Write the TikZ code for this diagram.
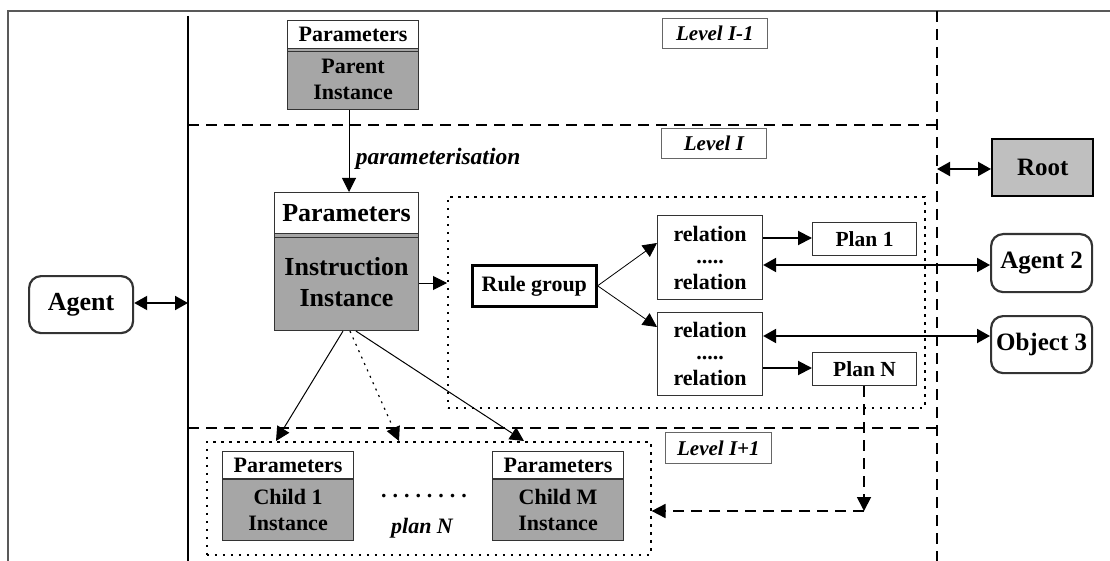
\documentclass[tikz,border=0pt]{standalone}
\usepackage{fontspec}
\setmainfont{Liberation Serif}
\usetikzlibrary{arrows.meta}

\begin{document}
\begin{tikzpicture}[x=1pt,y=-1pt,
  font=\bfseries\fontsize{22}{26}\selectfont,
  box/.style={draw=black!80, line width=1.1pt, inner sep=0pt, align=center, anchor=north west},
  parbox/.style={box, fill=white},
  instbox/.style={box, fill=black!35},
  rndbox/.style={box, line width=2.2pt, rounded corners=12pt, font=\bfseries\fontsize{26}{28}\selectfont},
  lvl/.style={draw=black!60, line width=0.8pt, inner sep=0pt, anchor=north west,
    font=\bfseries\itshape\fontsize{21}{24}\selectfont},
  tip/.style={-{Triangle[length=14pt,width=14pt]}},
  bitip/.style={{Triangle[length=13pt,width=14pt]}-{Triangle[length=13pt,width=14pt]}},
  conn/.style={line width=1pt},
  heavy/.style={line width=2pt},
  layer/.style={line width=1.6pt, dash pattern=on 11pt off 7pt},
  group/.style={line width=1.6pt, dash pattern=on 2.5pt off 5.5pt},
]
\useasboundingbox (0,0) rectangle (1110,561);

% outer frame and swim-lane lines
\draw[black!65, line width=2pt] (8,562) -- (8,11) -- (1112,11);
\draw[line width=1.2pt] (188,16) -- (188,562);
\draw[layer] (937,11) -- (937,562);
\draw[layer] (188,125) -- (937,125);
\draw[layer] (188,428) -- (937,428);

% level labels
\node[lvl, minimum width=105pt, minimum height=30pt] (lvlup) at (662,18) {Level I-1};
\node[lvl, minimum width=105pt, minimum height=30pt] (lvl) at (661,128) {Level I};
\node[lvl, minimum width=106pt, minimum height=31pt] (lvldown) at (665,432) {Level I+1};

% parent instance
\node[parbox, minimum width=131pt, minimum height=28pt] (ppar) at (287,20) {Parameters};
\node[instbox, minimum width=131pt, minimum height=61pt] (pinst) at (287,48) {Parent\\Instance};
\draw[black!80, line width=0.8pt] (ppar.south west) ++(0,2) -- ++(131,0);

% instruction instance
\node[parbox, minimum width=144pt, minimum height=41pt, font=\bfseries\fontsize{26}{30}\selectfont] (ipar) at (274,192) {Parameters};
\node[instbox, minimum width=144pt, minimum height=97pt, font=\bfseries\fontsize{26}{31}\selectfont] (iinst) at (274,233) {Instruction\\Instance};
\draw[black!80, line width=0.8pt] (274,237) -- (418,237);

% rule group container
\node[draw, group, inner sep=0pt, anchor=north west, minimum width=477pt, minimum height=211pt] (rules) at (447,196) {};
\node[box, draw=black, line width=2.6pt, minimum width=124pt, minimum height=41pt] (rg) at (471,264) {Rule group};
\node[box, minimum width=105pt, minimum height=84pt] (rel1) at (657,215) {relation\\[-4pt].....\\relation};
\node[box, minimum width=105pt, minimum height=83pt] (rel2) at (657,312) {relation\\[-4pt].....\\relation};
\node[box, minimum width=104pt, minimum height=33pt, font=\bfseries\fontsize{21.5}{24}\selectfont] (plan1) at (812,222) {Plan 1};
\node[box, minimum width=104pt, minimum height=33pt, font=\bfseries\fontsize{21.5}{24}\selectfont] (planN) at (812,352) {Plan N};

% external entities
\node[box, draw=black, fill=black!25, line width=2.4pt, minimum width=101pt, minimum height=57pt, font=\bfseries\fontsize{25}{28}\selectfont] (root) at (991,138) {Root};
\node[rndbox, minimum width=104pt, minimum height=57pt] (agent) at (28,275) {Agent};
\node[rndbox, minimum width=101pt, minimum height=58pt, font=\bfseries\fontsize{25}{28}\selectfont] (agent2) at (990,233) {Agent 2};
\node[rndbox, minimum width=101pt, minimum height=57pt, font=\bfseries\fontsize{25}{28}\selectfont] (object3) at (990,315) {Object 3};

% child instances
\node[draw, group, inner sep=0pt, anchor=north west, minimum width=444pt, minimum height=113pt] (children) at (206,441) {};
\node[parbox, minimum width=131pt, minimum height=27pt] (c1par) at (222,451) {Parameters};
\node[instbox, minimum width=131pt, minimum height=62pt] (c1inst) at (222,478) {Child 1\\Instance};
\node[parbox, minimum width=131pt, minimum height=27pt] (cmpar) at (492,451) {Parameters};
\node[instbox, minimum width=131pt, minimum height=62pt] (cminst) at (492,478) {Child M\\Instance};
\draw[black!80, line width=2pt] (222,478.5) -- (353,478.5);
\draw[black!80, line width=2pt] (492,478.5) -- (623,478.5);
\node[inner sep=0pt, font=\bfseries\fontsize{22}{26}\selectfont\addfontfeature{LetterSpace=27}] (dots) at (424,496) {........};
\node[inner sep=0pt, font=\bfseries\itshape\fontsize{22}{26}\selectfont] (planlbl) at (422,528) {plan N};

% connectors
\draw[conn, tip] (pinst.south -| 349,0) -- (ipar.north -| 349,0)
  node[pos=0.6, right=3pt, font=\bfseries\itshape\fontsize{23.5}{26}\selectfont] (param) {parameterisation};
\draw[conn, tip] (iinst.east |- 0,283) -- (rules.west |- 0,283);
\draw[line width=0.8pt, tip] (rg.east) -- (rel1.west |- 0,243);
\draw[line width=0.8pt, tip] (rg.east) -- (rel2.west |- 0,327);
\draw[heavy, tip] (rel1.east |- 0,238) -- (plan1.west |- 0,238);
\draw[heavy, tip] (rel2.east |- 0,368) -- (planN.west |- 0,368);
\draw[heavy, bitip] (rel1.east |- 0,265) -- (agent2.west |- 0,265);
\draw[heavy, bitip] (rel2.east |- 0,336) -- (object3.west |- 0,336);
\draw[heavy, bitip] (937,169) -- (root.west |- 0,169);
\draw[heavy, bitip] (agent.east |- 0,303) -- (188,303);

\draw[conn, tip] (iinst.south -| 343,0) -- (children.north -| 276,0);
\draw[line width=1.2pt, tip, dash pattern=on 2pt off 5pt] (iinst.south -| 350,0) -- (children.north -| 399,0);
\draw[conn, tip] (iinst.south -| 356,0) -- (children.north -| 524,0);

\coordinate (bend) at (864,511);
\draw[layer, line width=1.8pt, tip] (planN.south -| bend) -- (bend);
\draw[layer, line width=1.8pt, tip] (bend) -- (children.east |- bend);
\end{tikzpicture}
\end{document}
